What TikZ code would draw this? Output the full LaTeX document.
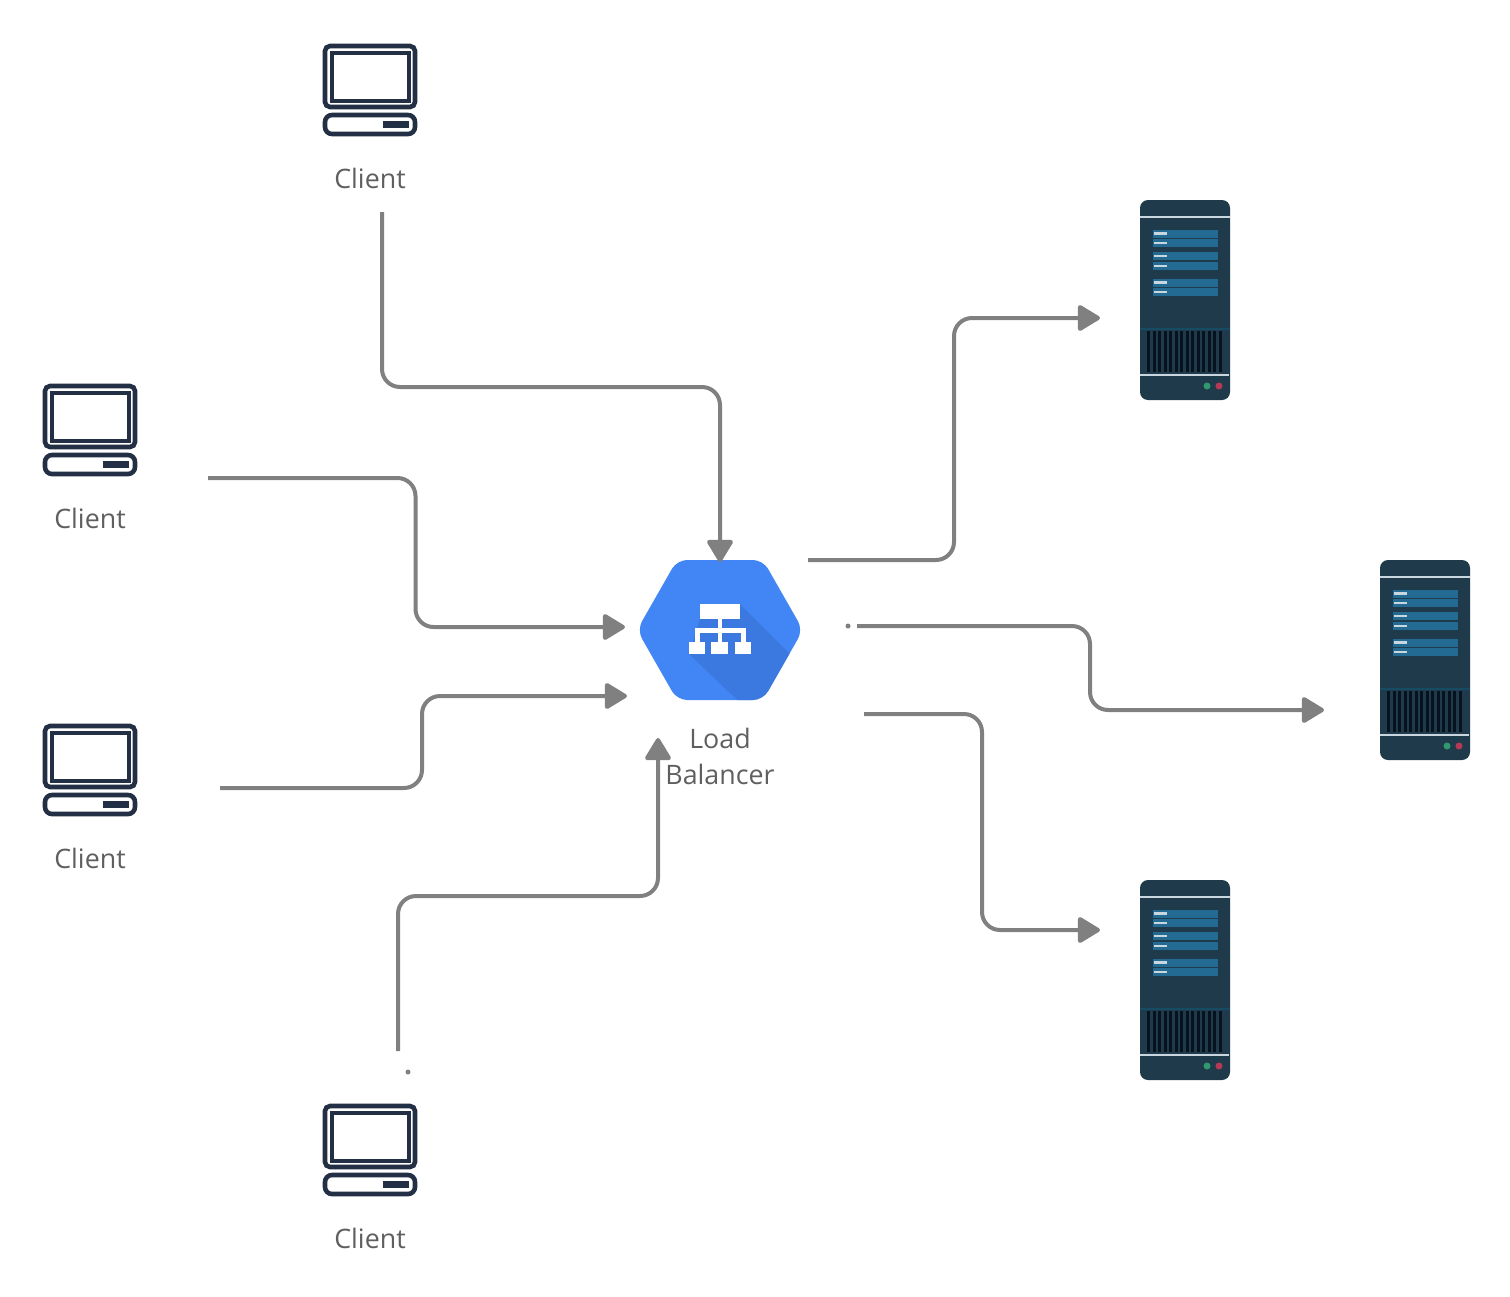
\documentclass[tikz,border=0pt]{standalone}
\usepackage{fontspec}
\setmainfont{Open Sans}
\usetikzlibrary{arrows.meta}
\definecolor{clientink}{HTML}{232F45}
\definecolor{labelgray}{HTML}{5F5F5F}
\definecolor{wiregray}{HTML}{808080}
\definecolor{lbblue}{HTML}{4285F4}
\definecolor{lbshade}{HTML}{3B78E0}
\definecolor{rackbody}{HTML}{1F3A4A}
\definecolor{rackstrip}{HTML}{246B94}
\definecolor{rackline}{HTML}{C9D6DE}
\definecolor{rackseam}{HTML}{174A63}
\definecolor{rackvent}{HTML}{06121D}
\definecolor{rackgreen}{HTML}{2F9A6B}
\definecolor{rackred}{HTML}{B23A55}
\tikzset{
  wire/.style={draw=wiregray, line width=2pt, rounded corners=9pt,
    -{Triangle[width=14pt,length=12pt,round]}},
  speck/.style={circle, fill=wiregray, inner sep=0pt, minimum size=2.5pt},
  caption/.style={text=labelgray, font=\fontsize{13.4pt}{18pt}\selectfont, align=center, inner sep=0pt},
  client/.pic={
    \draw[clientink, line width=2.3pt, rounded corners=2.5pt] (-45,-44) rectangle (45,17);
    \draw[clientink, line width=2pt] (-38.5,-37.5) rectangle (38.5,10.5);
    \draw[clientink, line width=2.3pt, rounded corners=3.5pt] (-45,25) rectangle (45,44);
    \fill[clientink] (13,31) rectangle (39,38);
  },
  rack/.pic={
    \fill[rackbody, rounded corners=4pt] (-45,-100) rectangle (45,100);
    \draw[rackline, line width=1.2pt] (-45,-83) -- (45,-83);
    \draw[rackline, line width=1.2pt] (-45,75) -- (44,75);
    \draw[rackseam, line width=0.7pt] (-45,29) -- (45,29);
    \foreach \stripy in {-66.5,-57,-44,-34,-17.5,-8} {
      \fill[rackstrip] (-32,\stripy-4) rectangle (33,\stripy+4);
      \fill[rackline] (-31,\stripy-1.4) rectangle (-18,\stripy+1.4);
    }
    \foreach \ventx in {0,...,13} {
      \fill[rackvent] (-38+\ventx*5.5,31) rectangle (-34.6+\ventx*5.5,72);
    }
    \fill[rackgreen] (22,86) circle (3.5);
    \fill[rackred] (34,86) circle (3.5);
  }
}
\begin{document}
\begin{tikzpicture}[x=0.5pt,y=-0.5pt]
  \useasboundingbox (0,0) rectangle (1510,1296);
  % clients
  \pic at (370,90) {client};
  \pic at (90,430) {client};
  \pic at (90,770) {client};
  \pic at (370,1150) {client};
  \node[caption] (clientA) at (370,178) {Client};
  \node[caption] (clientB) at (90,518) {Client};
  \node[caption] (clientC) at (90,858) {Client};
  \node[caption] (clientD) at (370,1238) {Client};
  % servers
  \pic at (1185,300) {rack};
  \pic at (1425,660) {rack};
  \pic at (1185,980) {rack};
  % load balancer
  \begin{scope}
    \clip[rounded corners=5pt] (637,630) -- (677,560) -- (763,560) -- (803,630) -- (763,700) -- (677,700) -- cycle;
    \fill[lbblue] (630,550) rectangle (810,710);
    \fill[lbshade] (740,604) -- (810,674) -- (810,710) -- (748,710) -- (689,654) -- (700,619) -- cycle;
  \end{scope}
  \fill[white] (700,604) rectangle (740,619);
  \fill[white] (718,619) rectangle (722,642);
  \draw[white, line width=2.5pt] (697,642) -- (697,630.5) -- (743,630.5) -- (743,642);
  \fill[white] (689,642) rectangle (705,654);
  \fill[white] (711,642) rectangle (728,654);
  \fill[white] (735,642) rectangle (751,654);
  \node[caption] (lb) at (720,756) {Load\\Balancer};
  % ends of the connectors
  \coordinate (fromA) at (382,212);
  \coordinate (fromB) at (208,478);
  \coordinate (fromC) at (220,788);
  \coordinate (fromD) at (398,1051);
  \coordinate (intoA) at (720,562);
  \coordinate (intoB) at (625,627);
  \coordinate (intoC) at (627,696);
  \coordinate (intoD) at (658,738);
  \coordinate (outA) at (808,560);
  \coordinate (outB) at (857,626);
  \coordinate (outC) at (864,714);
  \coordinate (toRackA) at (1100,318);
  \coordinate (toRackB) at (1324,710);
  \coordinate (toRackC) at (1100,930);
  \coordinate (bendA) at (550,387);
  \coordinate (bendB) at (415.5,550);
  \coordinate (bendC) at (422,740);
  \coordinate (bendD) at (530,896);
  \coordinate (bendE) at (954,440);
  \coordinate (bendF) at (1090,668);
  \coordinate (bendG) at (982,820);
  \begin{scope}[wire]
    \draw[wire] (fromA) |- (bendA) -| (intoA);
    \draw[wire] (fromB) -| (bendB) |- (intoB);
    \draw[wire] (fromC) -| (bendC) |- (intoC);
    \draw[wire] (fromD) |- (bendD) -| (intoD);
    \draw[wire] (outA) -| (bendE) |- (toRackA);
    \draw[wire] (outB) -| (bendF) |- (toRackB);
    \draw[wire] (outC) -| (bendG) |- (toRackC);
  \end{scope}
  \node[speck] (speckA) at (408,1072) {};
  \node[speck] (speckB) at (848,626) {};
\end{tikzpicture}
\end{document}
